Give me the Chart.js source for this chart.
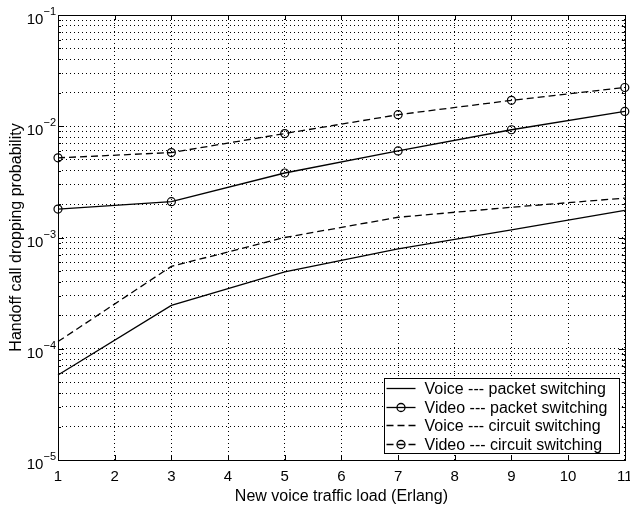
<!DOCTYPE html>
<html>
<head>
<meta charset="utf-8">
<style>
  html, body { margin: 0; padding: 0; background: #fff; }
  #wrap { width: 630px; height: 510px; }
</style>
<script src="https://cdn.jsdelivr.net/npm/chart.js@4/dist/chart.umd.min.js"></script>
</head>
<body>
<div id="wrap"><canvas id="dropChart" width="630" height="510"></canvas></div>
<script>
const loads = [1, 3, 5, 7, 9, 11];
const voicePacket = [5.8e-5, 2.45e-4, 4.9e-4, 7.9e-4, 1.17e-3, 1.75e-3];
const videoPacket = [1.8e-3, 2.1e-3, 3.8e-3, 6.0e-3, 9.3e-3, 1.36e-2];
const voiceCircuit = [1.16e-4, 5.5e-4, 1.0e-3, 1.52e-3, 1.87e-3, 2.26e-3];
const videoCircuit = [5.2e-3, 5.8e-3, 8.6e-3, 1.27e-2, 1.71e-2, 2.23e-2];
const seriesLabels = [
  "Voice --- packet switching",
  "Video --- packet switching",
  "Voice --- circuit switching",
  "Video --- circuit switching",
];
const xTicks = [1, 2, 3, 4, 5, 6, 7, 8, 9, 10, 11];
const yExponents = [-5, -4, -3, -2, -1];
const yMinorSteps = [2, 3, 4, 5, 6, 7, 8, 9];

const FONT = "'Liberation Sans', Arial, Helvetica, sans-serif";
const DASH = [7, 4];

function toPoints(values) {
  return values.map((v, i) => ({ x: loads[i], y: v }));
}

function makeSet(label, values, dashed, marker) {
  return {
    label,
    data: toPoints(values),
    borderColor: "#000",
    borderWidth: 1.3,
    borderDash: dashed ? DASH : [],
    tension: 0,
    fill: false,
    clip: false,
    pointStyle: "circle",
    pointRadius: marker ? 4 : 0,
    pointHoverRadius: marker ? 4 : 0,
    pointBorderColor: "#000",
    pointBorderWidth: 1.2,
    pointBackgroundColor: "rgba(0,0,0,0)",
  };
}

// box, inward ticks, y labels with superscripts, legend
const framePlugin = {
  id: "frame",
  afterDraw(chart) {
    const { ctx, chartArea: a, scales } = chart;
    const ys = scales.y;
    const xs = scales.x;
    ctx.save();
    ctx.strokeStyle = "#000";
    ctx.lineWidth = 1;
    ctx.setLineDash([]);

    // inward tick marks
    ctx.beginPath();
    xTicks.forEach((t) => {
      const px = Math.round(xs.getPixelForValue(t)) + 0.5;
      ctx.moveTo(px, a.bottom); ctx.lineTo(px, a.bottom - 5);
      ctx.moveTo(px, a.top); ctx.lineTo(px, a.top + 5);
    });
    ys.ticks.forEach((t) => {
      const py = Math.round(ys.getPixelForValue(t.value)) + 0.5;
      const len = t.major ? 6 : 3;
      ctx.moveTo(a.left, py); ctx.lineTo(a.left + len, py);
      ctx.moveTo(a.right, py); ctx.lineTo(a.right - len, py);
    });
    ctx.stroke();

    // plot box
    ctx.strokeRect(Math.round(a.left) + 0.5, Math.round(a.top) + 0.5,
      Math.round(a.right - a.left), Math.round(a.bottom - a.top));

    // y labels 10^n
    ctx.fillStyle = "#000";
    ctx.textBaseline = "middle";
    ctx.textAlign = "right";
    yExponents.forEach((e) => {
      const py = ys.getPixelForValue(Math.pow(10, e));
      const sup = "\u2212" + Math.abs(e);
      ctx.font = "11px " + FONT;
      const sw = ctx.measureText(sup).width;
      const xr = a.left - 2;
      ctx.fillText(sup, xr, py - 3);
      ctx.font = "15px " + FONT;
      ctx.fillText("10", xr - sw, py + 5);
    });

    // legend
    const bw = 235, bh = 75;
    const bx = Math.round(a.right - 6 - bw) + 0.5;
    const by = Math.round(a.bottom - 7 - bh) + 0.5;
    ctx.fillStyle = "#fff";
    ctx.fillRect(bx, by, bw, bh);
    ctx.strokeRect(bx, by, bw, bh);
    ctx.font = "16px " + FONT;
    ctx.textAlign = "left";
    ctx.lineWidth = 1.3;
    chart.data.datasets.forEach((ds, i) => {
      const ry = Math.round(by + 9.5 + i * 18.7) + 0.5;
      const x0 = bx + 2, x1 = bx + 31;
      ctx.setLineDash(ds.borderDash || []);
      ctx.beginPath();
      ctx.moveTo(x0, ry); ctx.lineTo(x1, ry);
      ctx.stroke();
      ctx.setLineDash([]);
      if (ds.pointRadius > 0) {
        ctx.beginPath();
        ctx.arc((x0 + x1) / 2, ry, 4, 0, Math.PI * 2);
        ctx.stroke();
      }
      ctx.fillStyle = "#000";
      ctx.fillText(ds.label, bx + 40, ry + 1);
    });
    ctx.restore();
  },
};

new Chart(document.getElementById("dropChart"), {
  type: "line",
  data: {
    datasets: [
      makeSet(seriesLabels[0], voicePacket, false, false),
      makeSet(seriesLabels[1], videoPacket, false, true),
      makeSet(seriesLabels[2], voiceCircuit, true, false),
      makeSet(seriesLabels[3], videoCircuit, true, true),
    ],
  },
  options: {
    responsive: false,
    animation: false,
    events: [],
    layout: { padding: { top: 15, right: 5, left: 0, bottom: 0 } },
    plugins: { legend: { display: false }, tooltip: { enabled: false } },
    scales: {
      x: {
        type: "linear",
        min: 1,
        max: 11,
        afterBuildTicks: (s) => { s.ticks = xTicks.map((v) => ({ value: v })); },
        afterFit: (s) => { s.height = 50; s.paddingLeft = 0; s.paddingRight = 0; },
        grid: { color: "#000", lineWidth: 1, drawTicks: false },
        border: { display: false, dash: [1, 3] },
        ticks: { color: "#000", font: { family: FONT, size: 15 }, padding: 8, autoSkip: false, maxRotation: 0 },
        title: {
          display: true,
          text: "New voice traffic load (Erlang)",
          color: "#000",
          font: { family: FONT, size: 16 },
          padding: { top: 0, bottom: 4 },
        },
      },
      y: {
        type: "logarithmic",
        min: 1e-5,
        max: 1e-1,
        afterBuildTicks: (s) => {
          const ticks = [];
          yExponents.forEach((e) => {
            const base = Math.pow(10, e);
            ticks.push({ value: base, major: true });
            yMinorSteps.forEach((m) => ticks.push({ value: m * base, major: false }));
          });
          ticks.push({ value: 1e-1, major: true });
          s.ticks = ticks;
        },
        afterFit: (s) => { s.width = 58; s.paddingTop = 0; s.paddingBottom = 0; },
        grid: { color: "#000", lineWidth: 1, drawTicks: false },
        border: { display: false, dash: [1, 3] },
        ticks: { display: false },
        title: {
          display: true,
          text: "Handoff call dropping probability",
          color: "#000",
          font: { family: FONT, size: 16 },
          padding: { top: 7, bottom: 0 },
        },
      },
    },
  },
  plugins: [framePlugin],
});
</script>
</body>
</html>
